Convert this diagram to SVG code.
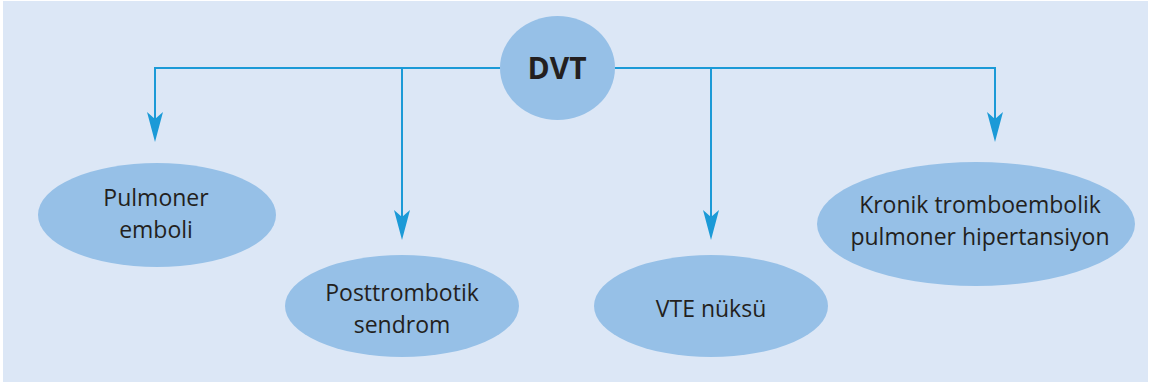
<svg xmlns="http://www.w3.org/2000/svg" width="1150" height="384" viewBox="0 0 1150 384">
<style>
.bg{fill:#dce7f6}
.node{fill:#96c0e7}
.lbl{font-family:"Open Sans","Noto Sans",sans-serif;font-size:23px;fill:#231f20;text-anchor:middle}
.title{font-family:"Open Sans","Noto Sans",sans-serif;font-size:30px;font-weight:bold;fill:#231f20;text-anchor:middle}
.conn{fill:none;stroke:#1b9ad7;stroke-width:2}
</style>
<defs>
<marker id="arr" markerUnits="userSpaceOnUse" viewBox="0 0 30 16" refX="24" refY="8" markerWidth="30" markerHeight="16" orient="auto">
<path d="M0,0 L30,8 L0,16 L7,8 Z" fill="#1b9ad7"/>
</marker>
</defs>
<rect class="bg" x="3" y="1" width="1145" height="381"/>
<g id="connectors">
<path class="conn" d="M500,68 H155 V136" marker-end="url(#arr)"/>
<path class="conn" d="M402,68 V234" marker-end="url(#arr)"/>
<path class="conn" d="M615,68 H995 V136" marker-end="url(#arr)"/>
<path class="conn" d="M711,68 V234" marker-end="url(#arr)"/>
</g>
<g id="dvt">
<ellipse class="node" cx="557.5" cy="68" rx="57.5" ry="52"/>
<text class="title" x="557" y="79">DVT</text>
</g>
<g id="pulmoner-emboli">
<ellipse class="node" cx="157" cy="215" rx="119" ry="52"/>
<text class="lbl" x="156" y="206">Pulmoner</text>
<text class="lbl" x="156" y="238">emboli</text>
</g>
<g id="posttrombotik-sendrom">
<ellipse class="node" cx="402" cy="306" rx="117" ry="51"/>
<text class="lbl" x="402" y="301">Posttrombotik</text>
<text class="lbl" x="402" y="333">sendrom</text>
</g>
<g id="vte-nuksu">
<ellipse class="node" cx="711" cy="306" rx="117" ry="51"/>
<text class="lbl" x="711" y="317">VTE nüksü</text>
</g>
<g id="kronik">
<ellipse class="node" cx="976" cy="224" rx="159" ry="62"/>
<text class="lbl" x="980" y="213">Kronik tromboembolik</text>
<text class="lbl" x="980" y="245">pulmoner hipertansiyon</text>
</g>
</svg>
